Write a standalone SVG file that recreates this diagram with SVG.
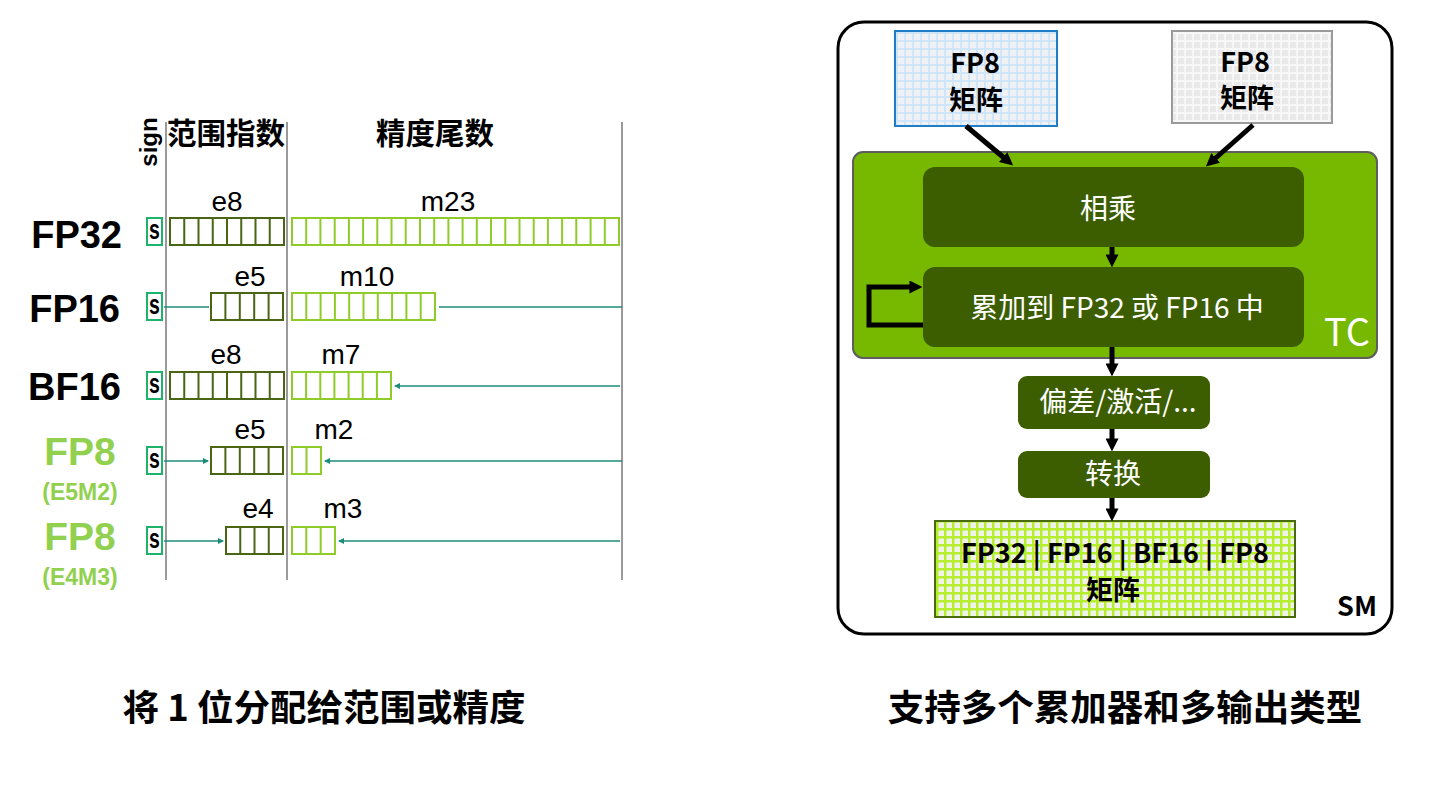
<svg xmlns="http://www.w3.org/2000/svg" width="1443" height="787" viewBox="0 0 1443 787">
<style>
.lbl{font-family:"Liberation Sans","Noto Sans CJK SC",sans-serif;font-weight:bold;fill:#000}
.cjk{font-family:"Noto Sans CJK SC","Liberation Sans",sans-serif;font-weight:bold;fill:#000}
.bits{font-family:"Liberation Sans",sans-serif;font-size:28px;fill:#000;text-anchor:middle}
.green{fill:#92d050}
.sbox{fill:#fff;stroke:#1db36b;stroke-width:2}
.stxt{font-family:"Liberation Sans",sans-serif;font-weight:bold;font-size:27px;text-anchor:middle}
.exp{fill:none;stroke:#4a6614;stroke-width:2}
.man{fill:none;stroke:#8fcc2a;stroke-width:2}
.vline{stroke:#9a9a9a;stroke-width:2}
.tl{stroke:#1b8c78;stroke-width:1.6;fill:none}
.dark{fill:#3c5e00}
.wt{font-family:"Noto Sans CJK SC",sans-serif;font-size:28px;fill:#fff;text-anchor:middle}
.bt{font-family:"Noto Sans CJK SC",sans-serif;font-weight:bold;font-size:27px;fill:#000;text-anchor:middle}
.conn{stroke:#000;stroke-width:5;fill:none}
</style>
<defs>
<pattern id="gBlue" width="8" height="8" patternUnits="userSpaceOnUse"><rect width="8" height="8" fill="#cfe5fa"/><rect x="2" y="2" width="6" height="6" fill="#eff1f3"/></pattern>
<pattern id="gGray" width="8" height="8" patternUnits="userSpaceOnUse"><rect width="8" height="8" fill="#f7f7f7"/><rect x="2" y="2" width="6" height="6" fill="#e9e9e9"/></pattern>
<pattern id="gGreen" width="8" height="8" patternUnits="userSpaceOnUse"><rect width="8" height="8" fill="#b4ee2e"/><rect x="2.5" y="2.5" width="5.5" height="5.5" fill="#f0f2ea"/></pattern>
<marker id="ah" viewBox="0 0 12 12" refX="7" refY="6" markerWidth="13" markerHeight="13" markerUnits="userSpaceOnUse" orient="auto"><path d="M0,0 L12,6 L0,12 z" fill="#000"/></marker>
<marker id="th" viewBox="0 0 6 6" refX="5" refY="3" markerWidth="6" markerHeight="6" markerUnits="userSpaceOnUse" orient="auto"><path d="M0,0 L6,3 L0,6 z" fill="#1b8c78"/></marker>
</defs>
<rect width="1443" height="787" fill="#fff"/>

<!-- LEFT PANEL -->
<g id="grid-lines">
<line class="vline" x1="166" y1="122" x2="166" y2="580"/>
<line class="vline" x1="287" y1="122" x2="287" y2="580"/>
<line class="vline" x1="622" y1="122" x2="622" y2="580"/>
</g>
<g id="headers">
<text class="lbl" font-size="24" transform="translate(157,142) rotate(-90)" text-anchor="middle">sign</text>
<text class="cjk" font-size="29.5" x="226" y="144" text-anchor="middle">范围指数</text>
<text class="cjk" font-size="29.5" x="435" y="144" text-anchor="middle">精度尾数</text>
</g>

<g id="row-fp32">
<text class="lbl" font-size="38" x="122" y="248" text-anchor="end">FP32</text>
<rect class="sbox" x="147" y="218" width="15" height="27"/><text class="stxt" transform="translate(154.5,239) scale(0.72,1)">s</text>
<rect class="exp" x="170" y="218" width="114" height="27"/>
<path class="exp" d="M184.25 218V245M198.5 218V245M212.75 218V245M227 218V245M241.25 218V245M255.5 218V245M269.75 218V245"/>
<rect class="man" x="292" y="218" width="327" height="27"/>
<path class="man" d="M306.2 218V245M320.4 218V245M334.7 218V245M348.9 218V245M363.1 218V245M377.3 218V245M391.5 218V245M405.7 218V245M420 218V245M434.2 218V245M448.4 218V245M462.6 218V245M476.8 218V245M491 218V245M505.3 218V245M519.5 218V245M533.7 218V245M547.9 218V245M562.1 218V245M576.3 218V245M590.6 218V245M604.8 218V245"/>
<text class="bits" x="227" y="211">e8</text>
<text class="bits" x="448" y="211">m23</text>
</g>

<g id="row-fp16">
<text class="lbl" font-size="38" x="120" y="322" text-anchor="end">FP16</text>
<rect class="sbox" x="147" y="293" width="15" height="27"/><text class="stxt" transform="translate(154.5,314) scale(0.72,1)">s</text>
<rect class="exp" x="211" y="293" width="72" height="27"/>
<path class="exp" d="M225.4 293V320M239.8 293V320M254.2 293V320M268.6 293V320"/>
<rect class="man" x="292" y="293" width="143" height="27"/>
<path class="man" d="M306.3 293V320M320.6 293V320M334.9 293V320M349.2 293V320M363.5 293V320M377.8 293V320M392.1 293V320M406.4 293V320M420.7 293V320"/>
<text class="bits" x="250" y="286">e5</text>
<text class="bits" x="367" y="286">m10</text>
</g>

<g id="row-bf16">
<text class="lbl" font-size="38" x="121" y="400" text-anchor="end">BF16</text>
<rect class="sbox" x="147" y="372" width="15" height="27"/><text class="stxt" transform="translate(154.5,393) scale(0.72,1)">s</text>
<rect class="exp" x="170" y="372" width="114" height="27"/>
<path class="exp" d="M184.25 372V399M198.5 372V399M212.75 372V399M227 372V399M241.25 372V399M255.5 372V399M269.75 372V399"/>
<rect class="man" x="292" y="372" width="99" height="27"/>
<path class="man" d="M306.1 372V399M320.3 372V399M334.4 372V399M348.6 372V399M362.7 372V399M376.9 372V399"/>
<text class="bits" x="226" y="364">e8</text>
<text class="bits" x="341" y="364">m7</text>
</g>

<g id="row-fp8-e5m2">
<text class="lbl green" font-size="39" x="80" y="465" text-anchor="middle">FP8</text>
<text class="lbl green" font-size="23" x="80" y="500" text-anchor="middle">(E5M2)</text>
<rect class="sbox" x="147" y="447" width="15" height="27"/><text class="stxt" transform="translate(154.5,468) scale(0.72,1)">s</text>
<rect class="exp" x="211" y="447" width="72" height="27"/>
<path class="exp" d="M225.4 447V474M239.8 447V474M254.2 447V474M268.6 447V474"/>
<rect class="man" x="292" y="447" width="29" height="27"/>
<path class="man" d="M306.5 447V474"/>
<text class="bits" x="250" y="439">e5</text>
<text class="bits" x="334" y="439">m2</text>
</g>

<g id="row-fp8-e4m3">
<text class="lbl green" font-size="39" x="80" y="550" text-anchor="middle">FP8</text>
<text class="lbl green" font-size="23" x="80" y="585" text-anchor="middle">(E4M3)</text>
<rect class="sbox" x="147" y="527" width="15" height="27"/><text class="stxt" transform="translate(154.5,548) scale(0.72,1)">s</text>
<rect class="exp" x="226" y="527" width="57" height="27"/>
<path class="exp" d="M240.25 527V554M254.5 527V554M268.75 527V554"/>
<rect class="man" x="292" y="527" width="43" height="27"/>
<path class="man" d="M306.3 527V554M320.7 527V554"/>
<text class="bits" x="258" y="518">e4</text>
<text class="bits" x="343" y="518">m3</text>
</g>

<g id="left-connectors">
<line class="tl" x1="164" y1="307" x2="209" y2="307"/>
<line class="tl" x1="439" y1="307" x2="622" y2="307" stroke-width="2.2"/>
<line class="tl" x1="620" y1="386" x2="395" y2="386" marker-end="url(#th)"/>
<line class="tl" x1="164" y1="461" x2="208" y2="461" marker-end="url(#th)"/>
<line class="tl" x1="622" y1="461" x2="325" y2="461" marker-end="url(#th)"/>
<line class="tl" x1="164" y1="541" x2="223" y2="541" marker-end="url(#th)"/>
<line class="tl" x1="620" y1="541" x2="339" y2="541" marker-end="url(#th)"/>
</g>

<text id="caption-left" class="cjk" font-size="36.5" x="324" y="721" text-anchor="middle">将 1 位分配给范围或精度</text>

<!-- RIGHT PANEL -->
<g id="sm">
<rect x="838" y="22" width="554" height="612" rx="26" fill="#fff" stroke="#000" stroke-width="3"/>
<text class="bt" font-size="32" x="1357" y="616">SM</text>
</g>
<g id="tc">
<rect x="853" y="152" width="524" height="206" rx="10" fill="#76b900" stroke="#5e5e5e" stroke-width="2"/>
<text x="1347" y="346" font-family="Noto Sans CJK SC,sans-serif" font-size="38" fill="#fff" text-anchor="middle">TC</text>
</g>
<g id="fp8-a">
<rect x="895" y="31" width="162" height="95" fill="url(#gBlue)" stroke="#1f7cc6" stroke-width="2"/>
<text class="bt" x="975" y="73">FP8</text>
<text class="bt" x="976" y="110">矩阵</text>
</g>
<g id="fp8-b">
<rect x="1172" y="31" width="160" height="92" fill="url(#gGray)" stroke="#9a9a9a" stroke-width="2"/>
<text class="bt" x="1245" y="72">FP8</text>
<text class="bt" x="1247" y="108">矩阵</text>
</g>
<g id="multiply">
<rect class="dark" x="923" y="167" width="381" height="80" rx="12"/>
<text class="wt" x="1108" y="219">相乘</text>
</g>
<g id="accumulate">
<rect class="dark" x="923" y="267" width="381" height="80" rx="12"/>
<text class="wt" font-size="29" x="1117" y="318">累加到 FP32 或 FP16 中</text>
</g>
<g id="bias">
<rect class="dark" x="1018" y="376" width="192" height="53" rx="9"/>
<text class="wt" x="1118" y="412">偏差/激活/...</text>
</g>
<g id="convert">
<rect class="dark" x="1018" y="451" width="192" height="47" rx="9"/>
<text class="wt" x="1113" y="484">转换</text>
</g>
<g id="output">
<rect x="935" y="521" width="360" height="96" fill="url(#gGreen)" stroke="#4a6a10" stroke-width="2"/>
<text class="bt" x="1115" y="563">FP32 | FP16 | BF16 | FP8</text>
<text class="bt" x="1113" y="600">矩阵</text>
</g>
<g id="connectors">
<line class="conn" x1="966" y1="126" x2="1009" y2="162" marker-end="url(#ah)"/>
<line class="conn" x1="1253" y1="125" x2="1210" y2="163" marker-end="url(#ah)"/>
<line class="conn" x1="1112" y1="247" x2="1112" y2="262" marker-end="url(#ah)"/>
<path class="conn" d="M923 325 H869 V287 H917" marker-end="url(#ah)"/>
<line class="conn" x1="1112" y1="347" x2="1112" y2="371" marker-end="url(#ah)"/>
<line class="conn" x1="1112" y1="429" x2="1112" y2="446" marker-end="url(#ah)"/>
<line class="conn" x1="1112" y1="498" x2="1112" y2="516" marker-end="url(#ah)"/>
</g>

<text id="caption-right" class="cjk" font-size="36.5" x="1125" y="721" text-anchor="middle">支持多个累加器和多输出类型</text>
</svg>
